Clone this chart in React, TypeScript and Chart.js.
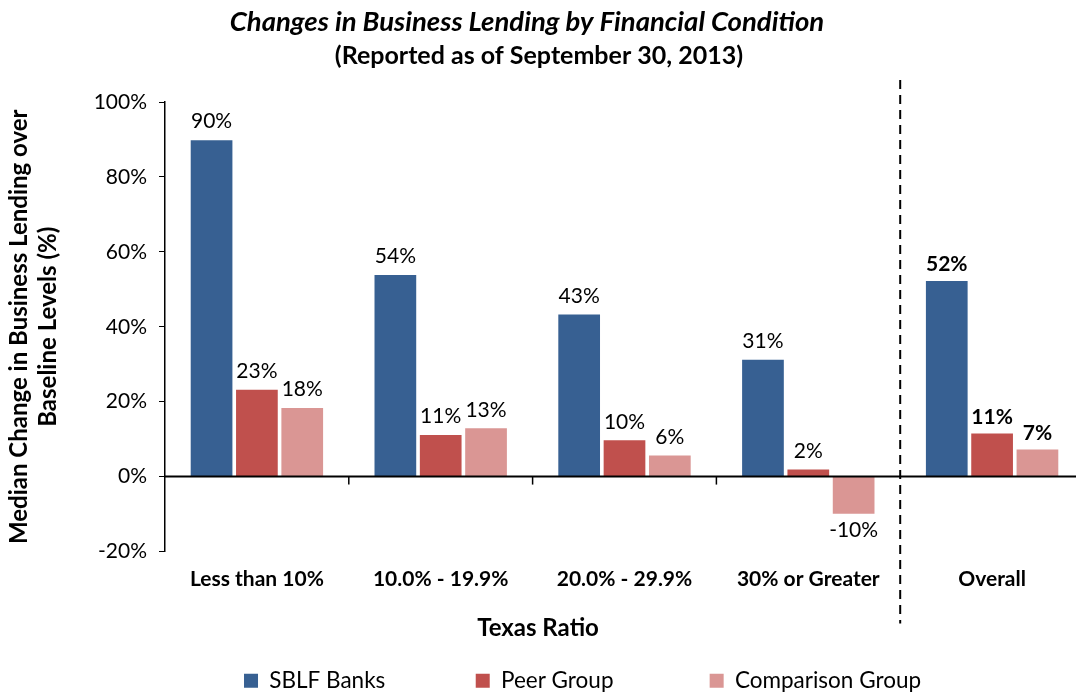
import React, { useEffect, useRef } from 'react';
import { Chart, registerables } from 'chart.js';

Chart.register(...registerables);

const categories = ['Less than 10%', '10.0% - 19.9%', '20.0% - 29.9%', '30% or Greater', 'Overall'];
const sblfBanks = [89.8, 53.8, 43.3, 31.2, 52.2];
const peerGroup = [23.2, 11.1, 9.7, 1.9, 11.5];
const comparisonGroup = [18.3, 12.9, 5.6, -9.9, 7.2];
const sblfLabels = ['90%', '54%', '43%', '31%', '52%'];
const peerLabels = ['23%', '11%', '10%', '2%', '11%'];
const comparisonLabels = ['18%', '13%', '6%', '-10%', '7%'];
const seriesNames = ['SBLF Banks', 'Peer Group', 'Comparison Group'];
const seriesColors = ['#376092', '#C0504D', '#DA9694'];
const yMin = -20;
const yMax = 100;
const yStep = 20;
const xTitle = 'Texas Ratio';
const FONT = 'Lato';

const VIEW_W = 1076;
const VIEW_H = 696;
const CANVAS_W = 1084;
const CANVAS_H = 706;

const labelSets = [sblfLabels, peerLabels, comparisonLabels];

const valueLabels = {
  id: 'valueLabels',
  afterDatasetsDraw(chart: any) {
    const ctx = chart.ctx;
    ctx.save();
    ctx.fillStyle = '#000';
    ctx.textAlign = 'center';
    chart.data.datasets.forEach((ds: any, di: number) => {
      const meta = chart.getDatasetMeta(di);
      meta.data.forEach((bar: any, i: number) => {
        const v = ds.data[i];
        const bold = i === categories.length - 1;
        ctx.font = `${bold ? 'bold ' : ''}21px ${FONT}`;
        if (v >= 0) {
          ctx.textBaseline = 'bottom';
          ctx.fillText(labelSets[di][i], bar.x, bar.y - (bold ? 6 : 8));
        } else {
          ctx.textBaseline = 'top';
          ctx.fillText(labelSets[di][i], bar.x, bar.y + 6);
        }
      });
    });
    ctx.restore();
  },
};

const axisDecor = {
  id: 'axisDecor',
  afterDatasetsDraw(chart: any) {
    const ctx = chart.ctx;
    const x = chart.scales.x;
    const y = chart.scales.y;
    const y0 = y.getPixelForValue(0);
    ctx.save();
    ctx.strokeStyle = '#000';
    ctx.lineWidth = 2;
    ctx.beginPath();
    ctx.moveTo(chart.chartArea.left, y0);
    ctx.lineTo(chart.width, y0);
    ctx.stroke();
    ctx.lineWidth = 1.5;
    for (let i = 0; i < categories.length - 2; i++) {
      const px = x.getPixelForValue(i + 0.5);
      ctx.beginPath();
      ctx.moveTo(px, y0);
      ctx.lineTo(px, y0 + 8);
      ctx.stroke();
    }
    const dx = x.getPixelForValue(categories.length - 1.5);
    ctx.lineWidth = 2;
    ctx.setLineDash([9, 6]);
    ctx.beginPath();
    ctx.moveTo(dx, chart.chartArea.top - 22);
    ctx.lineTo(dx, chart.chartArea.bottom + 72);
    ctx.stroke();
    ctx.setLineDash([]);
    // axis title centred on the visible page
    ctx.fillStyle = '#000';
    ctx.font = `bold 24px ${FONT}`;
    ctx.textAlign = 'center';
    ctx.textBaseline = 'middle';
    ctx.fillText(xTitle, VIEW_W / 2, x.top + 77);
    ctx.restore();
  },
};

const pad = (s: string, n: number) => s + ' '.repeat(n);
const legendSpaces = [15, 16, 0];

export default function App() {
  const ref = useRef<HTMLCanvasElement | null>(null);
  useEffect(() => {
    document.body.style.margin = '0';
    const canvas = ref.current;
    if (!canvas) return;
    const chart = new Chart(canvas, {
      type: 'bar',
      data: {
        labels: categories,
        datasets: [
          { label: seriesNames[0], data: sblfBanks, backgroundColor: seriesColors[0], borderWidth: 0 },
          { label: seriesNames[1], data: peerGroup, backgroundColor: seriesColors[1], borderWidth: 0 },
          { label: seriesNames[2], data: comparisonGroup, backgroundColor: seriesColors[2], borderWidth: 0 },
        ],
      },
      options: {
        responsive: false,
        animation: false,
        layout: { padding: { left: 0, right: 0, top: 0, bottom: 4 } },
        datasets: { bar: { categoryPercentage: 0.74, barPercentage: 0.92 } },
        scales: {
          x: {
            grid: { display: false },
            border: { display: false },
            afterFit: (s: any) => { s.height = 114; },
            ticks: { color: '#000', font: { family: FONT, size: 21, weight: 'bold' }, padding: 7 },
          },
          y: {
            min: yMin,
            max: yMax,
            afterFit: (s: any) => { s.width = 165; },
            ticks: { stepSize: yStep, color: '#000', font: { family: FONT, size: 21 }, padding: 12, callback: (v: any) => `${v}%` },
            grid: { drawOnChartArea: false, drawTicks: true, tickLength: 6, color: '#000' },
            border: { display: true, color: '#000', width: 1.5 },
            title: {
              display: true,
              text: ['Median Change in Business Lending over', 'Baseline Levels (%)'],
              color: '#000',
              font: { family: FONT, size: 24, weight: 'bold', lineHeight: 1.2 },
              padding: { top: 5, bottom: 0 },
            },
          },
        },
        plugins: {
          title: {
            display: true,
            text: 'Changes in Business Lending by Financial Condition     ',
            color: '#000',
            font: { family: FONT, size: 27.5, weight: 'bold', style: 'italic' },
            padding: { top: 6, bottom: 2 },
          },
          subtitle: {
            display: true,
            text: '(Reported as of September 30, 2013) ',
            color: '#000',
            font: { family: FONT, size: 25, weight: 'bold' },
            padding: { top: 0, bottom: 31 },
          },
          legend: {
            position: 'bottom',
            labels: {
              color: '#000',
              font: { family: FONT, size: 22.5 },
              boxWidth: 14,
              boxHeight: 14,
              padding: 4,
              generateLabels: (chart: any) => [
                {
                  text: pad('', 9),
                  fillStyle: 'rgba(0,0,0,0)',
                  strokeStyle: 'rgba(0,0,0,0)',
                  lineWidth: 0,
                  fontColor: '#000',
                  hidden: false,
                },
                ...chart.data.datasets.map((ds: any, i: number) => ({
                  text: pad(ds.label, legendSpaces[i]),
                  fillStyle: ds.backgroundColor,
                  strokeStyle: ds.backgroundColor,
                  lineWidth: 0,
                  fontColor: '#000',
                  hidden: false,
                  datasetIndex: i,
                })),
              ],
            },
          },
          tooltip: { enabled: false },
        },
      },
      plugins: [valueLabels, axisDecor],
    });
    return () => chart.destroy();
  }, []);
  return (
    <div style={{ width: VIEW_W, height: VIEW_H, overflow: 'hidden' }}>
      <canvas ref={ref} width={CANVAS_W} height={CANVAS_H} style={{ width: CANVAS_W, height: CANVAS_H, display: 'block' }} />
    </div>
  );
}
